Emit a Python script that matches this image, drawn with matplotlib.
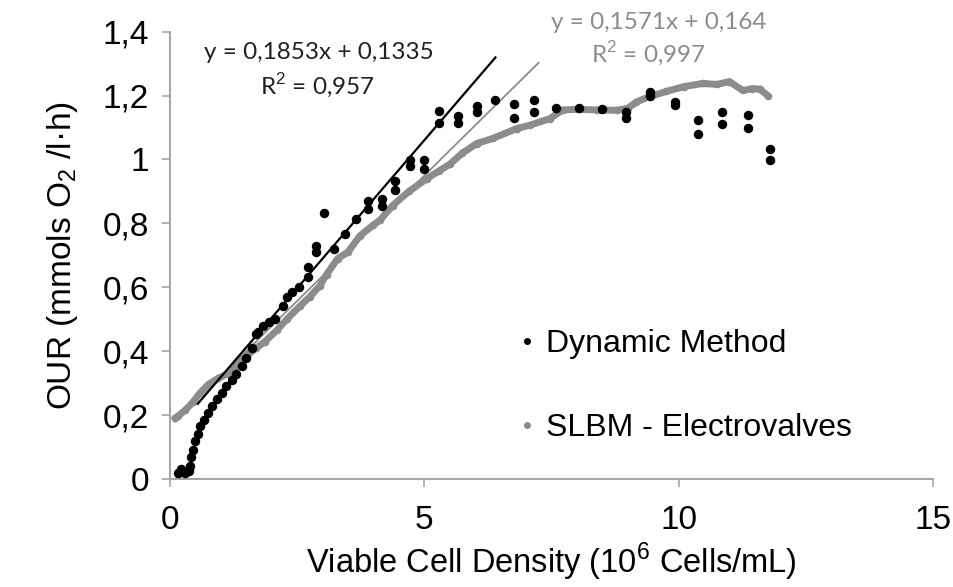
import numpy as np
import matplotlib
matplotlib.use("Agg")
from matplotlib import pyplot as plt

plt.rcParams['font.family'] = ['Liberation Sans', 'DejaVu Sans']
plt.rcParams['mathtext.fontset'] = 'custom'
plt.rcParams['mathtext.rm'] = 'Liberation Sans'

# Dynamic Method (black points)
dyn_x = [0.16, 0.22, 0.30, 0.38, 0.40, 0.42, 0.45, 0.50, 0.55, 0.60, 0.68, 0.75,
         0.83, 0.92, 1.02, 1.10, 1.22, 1.30, 1.41, 1.50, 1.61, 1.69, 1.73, 1.83,
         1.95, 2.06, 2.22, 2.30, 2.40, 2.53, 2.71, 2.71, 2.87, 2.87, 3.03, 3.22,
         3.44, 3.65, 3.90, 3.90, 4.17, 4.17, 4.42, 4.42, 4.72, 4.72, 5.00, 5.00,
         5.30, 5.30, 5.66, 5.66, 6.03, 6.03, 6.40, 6.76, 6.76, 7.15, 7.15, 7.60,
         8.04, 8.50, 8.96, 8.96, 9.43, 9.43, 9.92, 9.92, 10.39, 10.39, 10.86, 10.86,
         11.36, 11.36, 11.80, 11.80]
dyn_y = [0.020, 0.030, 0.020, 0.025, 0.040, 0.070, 0.090, 0.120, 0.140, 0.165, 0.185, 0.205,
         0.230, 0.250, 0.270, 0.290, 0.310, 0.330, 0.355, 0.380, 0.410, 0.455, 0.460, 0.480,
         0.490, 0.500, 0.540, 0.570, 0.585, 0.600, 0.664, 0.633, 0.730, 0.710, 0.834, 0.720,
         0.768, 0.815, 0.871, 0.846, 0.877, 0.853, 0.934, 0.903, 0.997, 0.980, 0.997, 0.969,
         1.153, 1.113, 1.135, 1.113, 1.166, 1.150, 1.185, 1.175, 1.130, 1.185, 1.150, 1.160,
         1.160, 1.157, 1.150, 1.130, 1.210, 1.200, 1.180, 1.170, 1.125, 1.080, 1.150, 1.110,
         1.140, 1.100, 1.034, 0.997]

# SLBM - Electrovalves (gray points)
slbm_x = [0.10, 0.16, 0.30, 0.45, 0.60, 0.75, 0.95, 1.14, 1.30, 1.51, 1.70, 1.87,
          2.10, 2.30, 2.55, 2.75, 2.95, 3.08, 3.30, 3.50, 3.73, 4.00, 4.13, 4.38,
          4.70, 5.05, 5.30, 5.50, 5.75, 6.03, 6.35, 6.82, 7.07, 7.47, 7.72, 8.00,
          8.40, 8.78, 9.00, 9.17, 9.43, 9.76, 10.10, 10.47, 10.75, 11.00, 11.26, 11.45,
          11.60, 11.75]
slbm_y = [0.190, 0.197, 0.215, 0.240, 0.270, 0.295, 0.315, 0.330, 0.355, 0.386, 0.410, 0.430,
          0.465, 0.500, 0.540, 0.570, 0.605, 0.640, 0.690, 0.710, 0.760, 0.795, 0.810, 0.856,
          0.900, 0.940, 0.965, 0.985, 1.020, 1.050, 1.066, 1.097, 1.107, 1.128, 1.155, 1.157,
          1.155, 1.154, 1.160, 1.180, 1.197, 1.213, 1.228, 1.238, 1.235, 1.244, 1.216, 1.222,
          1.220, 1.200]
slbm_origin = (0.17, 0.0)

# Trend lines: slope, intercept, x start, x end
dyn_fit = (0.1853, 0.1335, 0.55, 6.4)
slbm_fit = (0.1571, 0.164, 0.10, 7.25)

xticks = [0, 5, 10, 15]
yticks = [0, 0.2, 0.4, 0.6, 0.8, 1.0, 1.2, 1.4]
ytick_labels = ['0', '0,2', '0,4', '0,6', '0,8', '1', '1,2', '1,4']

gray = '#8c8c8c'
axis_gray = '#a6a6a6'

fig = plt.figure(figsize=(9.54, 5.87), dpi=100)
ax = fig.add_axes([0.178, 0.184, 0.800, 0.762])

# gray series drawn as dense thick line of dots
ax.plot(slbm_x, slbm_y, color=gray, lw=5, solid_capstyle='round',
        solid_joinstyle='round', marker='o', markersize=4.5, zorder=2)
ax.plot([slbm_origin[0]], [slbm_origin[1]], 'o', color=gray, markersize=4, zorder=2)

# trend lines
a, b, x0, x1 = slbm_fit
xf = np.array([x0, x1])
ax.plot(xf, a * xf + b, color=gray, lw=1.3, zorder=3)
a, b, x0, x1 = dyn_fit
xf = np.array([x0, x1])
ax.plot(xf, a * xf + b, color='black', lw=1.6, zorder=3)

ax.plot(dyn_x, dyn_y, 'o', color='black', markersize=5.8, zorder=4)

# legend handles
h1, = ax.plot([], [], 'o', color='black', markersize=4)
h2, = ax.plot([], [], 'o', color=gray, markersize=4)
ax.legend([h1, h2], ['Dynamic Method', 'SLBM - Electrovalves'], loc='center left',
          bbox_to_anchor=(0.418, 0.208), frameon=False, fontsize=23,
          handlelength=0.6, handletextpad=0.3, labelspacing=1.68)

# equations
ax.text(2.93, 1.335, 'y = 0,1853x + 0,1335', fontsize=17.5, family='Lato',
        color='#222222', ha='center', va='center')
ax.text(2.9, 1.23, 'R$^{2}$ = 0,957', fontsize=17.5, family='Lato',
        color='#222222', ha='center', va='center')
ax.text(9.6, 1.43, 'y = 0,1571x + 0,164', fontsize=17.5, family='Lato',
        color=gray, ha='center', va='center')
ax.text(9.4, 1.33, 'R$^{2}$ = 0,997', fontsize=17.5, family='Lato',
        color=gray, ha='center', va='center')

ax.set_xlim(0, 15)
ax.set_ylim(0, 1.4)
ax.set_xticks(xticks)
ax.set_yticks(yticks)
ax.set_yticklabels(ytick_labels)
ax.tick_params(labelsize=24, colors=axis_gray, labelcolor='black', length=6, width=1.2)
ax.tick_params(axis='x', pad=13)
ax.tick_params(axis='y', pad=9)
for s in ['top', 'right']:
    ax.spines[s].set_visible(False)
for s in ['left', 'bottom']:
    ax.spines[s].set_color(axis_gray)
    ax.spines[s].set_linewidth(1.5)

ax.set_xlabel('Viable Cell Density (10$^6$ Cells/mL)', fontsize=23.5, labelpad=3)
ax.set_ylabel('OUR (mmols O$_2$ /l·h)', fontsize=24, labelpad=16)

fig.savefig('out.png', dpi=100)
